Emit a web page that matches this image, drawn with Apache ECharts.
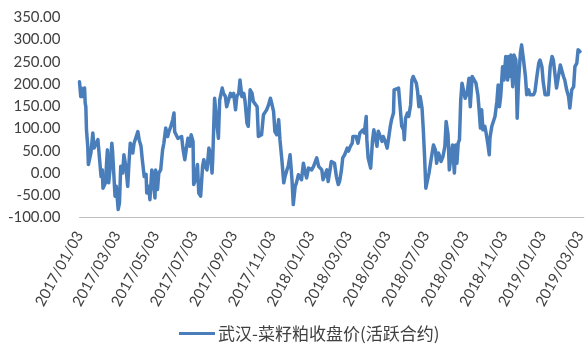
<!DOCTYPE html>
<html>
<head>
<meta charset="utf-8">
<script src="https://cdn.jsdelivr.net/npm/echarts@6/dist/echarts.min.js"></script>
<style>
  html, body { margin: 0; padding: 0; background: #fff; }
  #chart { width: 588px; height: 344px; }
</style>
</head>
<body>
<div id="chart"></div>
<script>
// 武汉菜籽粕活跃合约收盘价（元/吨）
const seriesName = '武汉-菜籽粕收盘价(活跃合约)';

const dates = [
  '2017-01-03','2017-01-05','2017-01-06','2017-01-08','2017-01-11','2017-01-12','2017-01-13','2017-01-14','2017-01-16','2017-01-17',
  '2017-01-21','2017-01-24','2017-01-26','2017-01-29','2017-02-01','2017-02-03','2017-02-06','2017-02-08','2017-02-09','2017-02-13',
  '2017-02-15','2017-02-16','2017-02-18','2017-02-20','2017-02-23','2017-02-24','2017-02-26','2017-02-28','2017-03-02','2017-03-05',
  '2017-03-07','2017-03-09','2017-03-12','2017-03-14','2017-03-17','2017-03-20','2017-03-22','2017-03-24','2017-03-28','2017-03-30',
  '2017-04-02','2017-04-05','2017-04-07','2017-04-10','2017-04-12','2017-04-15','2017-04-18','2017-04-19','2017-04-22','2017-04-24',
  '2017-04-27','2017-04-29','2017-05-02','2017-05-03','2017-05-06','2017-05-08','2017-05-11','2017-05-14','2017-05-16','2017-05-19',
  '2017-05-22','2017-05-24','2017-05-27','2017-05-30','2017-06-01','2017-06-02','2017-06-05','2017-06-07','2017-06-10','2017-06-13',
  '2017-06-15','2017-06-18','2017-06-21','2017-06-23','2017-06-26','2017-06-28','2017-07-01','2017-07-02','2017-07-05','2017-07-08',
  '2017-07-10','2017-07-13','2017-07-16','2017-07-18','2017-07-20','2017-07-23','2017-07-26','2017-07-28','2017-07-31','2017-08-01',
  '2017-08-04','2017-08-06','2017-08-08','2017-08-10','2017-08-12','2017-08-16','2017-08-18','2017-08-21','2017-08-23','2017-08-26',
  '2017-08-29','2017-08-31','2017-09-03','2017-09-06','2017-09-08','2017-09-11','2017-09-13','2017-09-16','2017-09-19','2017-09-21',
  '2017-09-24','2017-09-26','2017-09-29','2017-10-02','2017-10-04','2017-10-07','2017-10-10','2017-10-12','2017-10-15','2017-10-17',
  '2017-10-20','2017-10-23','2017-10-25','2017-10-28','2017-10-31','2017-11-02','2017-11-05','2017-11-07','2017-11-10','2017-11-13',
  '2017-11-15','2017-11-18','2017-11-21','2017-11-23','2017-11-26','2017-11-28','2017-12-01','2017-12-04','2017-12-06','2017-12-09',
  '2017-12-11','2017-12-14','2017-12-17','2017-12-19','2017-12-22','2017-12-25','2017-12-27','2017-12-30','2018-01-02','2018-01-04',
  '2018-01-07','2018-01-09','2018-01-12','2018-01-15','2018-01-17','2018-01-20','2018-01-22','2018-01-25','2018-01-28','2018-01-30',
  '2018-02-02','2018-02-04','2018-02-07','2018-02-09','2018-02-12','2018-02-15','2018-02-17','2018-02-20','2018-02-22','2018-02-25',
  '2018-02-28','2018-03-01','2018-03-03','2018-03-06','2018-03-09','2018-03-10','2018-03-13','2018-03-15','2018-03-18','2018-03-21',
  '2018-03-23','2018-03-26','2018-03-28','2018-03-31','2018-04-01','2018-04-03','2018-04-05','2018-04-07','2018-04-10','2018-04-12',
  '2018-04-15','2018-04-17','2018-04-19','2018-04-22','2018-04-25','2018-04-27','2018-04-30','2018-05-03','2018-05-05','2018-05-08',
  '2018-05-10','2018-05-13','2018-05-14','2018-05-17','2018-05-21','2018-05-24','2018-05-26','2018-05-29','2018-05-30','2018-06-01',
  '2018-06-04','2018-06-06','2018-06-09','2018-06-11','2018-06-13','2018-06-16','2018-06-18','2018-06-20','2018-06-22','2018-06-24',
  '2018-06-27','2018-06-29','2018-07-01','2018-07-03','2018-07-06','2018-07-08','2018-07-10','2018-07-13','2018-07-15','2018-07-18',
  '2018-07-20','2018-07-23','2018-07-25','2018-07-27','2018-07-30','2018-08-02','2018-08-04','2018-08-07','2018-08-09','2018-08-12',
  '2018-08-14','2018-08-17','2018-08-19','2018-08-21','2018-08-23','2018-08-25','2018-08-27','2018-08-29','2018-09-01','2018-09-03',
  '2018-09-06','2018-09-09','2018-09-11','2018-09-14','2018-09-17','2018-09-20','2018-09-23','2018-09-25','2018-09-27','2018-09-29',
  '2018-10-01','2018-10-04','2018-10-06','2018-10-09','2018-10-11','2018-10-12','2018-10-15','2018-10-18','2018-10-20','2018-10-23',
  '2018-10-25','2018-10-27','2018-10-29','2018-11-01','2018-11-03','2018-11-06','2018-11-09','2018-11-10','2018-11-12','2018-11-14',
  '2018-11-17','2018-11-19','2018-11-22','2018-11-24','2018-11-26','2018-11-29','2018-12-01','2018-12-04','2018-12-07','2018-12-09',
  '2018-12-12','2018-12-14','2018-12-17','2018-12-20','2018-12-22','2018-12-25','2018-12-28','2018-12-30','2019-01-02','2019-01-04',
  '2019-01-07','2019-01-10','2019-01-12','2019-01-15','2019-01-18','2019-01-20','2019-01-23','2019-01-25','2019-01-28','2019-01-31',
  '2019-02-02','2019-02-05','2019-02-07','2019-02-10','2019-02-13','2019-02-15','2019-02-18','2019-02-21','2019-02-23','2019-02-26',
  '2019-02-28','2019-03-03'
];

const prices = [
  205, 172, 191, 172, 191, 157, 149, 97, 60, 19,
  45, 90, 56, 56, 75, 72, -8, 7, -34, -22,
  30, 52, -22, 7, 67, 52, 0, -52, -30, -82,
  -67, 15, 0, 41, 15, -30, 22, 67, 45, 67,
  63, 93, 75, 60, 30, -8, -3, -45, -30, -60,
  7, -15, -56, 7, -37, 0, 7, 52, 67, 101,
  82, 93, 105, 120, 135, 93, 97, 78, 75, 82,
  56, 30, 60, 78, 60, 86, 71, -26, -15, 19,
  -45, -52, 15, 30, 15, 7, 56, 45, 0, 30,
  168, 135, 105, 78, 164, 191, 179, 172, 149, 146,
  179, 172, 179, 142, 172, 179, 209, 172, 179, 161,
  112, 105, 187, 179, 161, 157, 149, 82, 82, 86,
  131, 127, 142, 153, 168, 157, 138, 93, 86, 120,
  75, 30, -22, -8, 7, 15, 41, -15, -71, -30,
  -22, -4, 0, -15, 22, 0, -11, 11, 11, 7,
  15, 11, 34, 15, 11, 7, -15, -4, 7, -19,
  7, 26, 30, 22, -8, -26, -19, 7, 34, 41,
  45, 56, 49, 60, 67, 82, 86, 82, 67, 90,
  86, 97, 90, 127, 75, 34, 30, 11, 75, 97,
  97, 60, 94, 97, 71, 82, 71, 56, 75, 105,
  120, 135, 187, 191, 191, 191, 105, 97, 75, 123,
  135, 127, 153, 209, 217, 213, 202, 183, 149, 172,
  146, 97, 37, -34, -37, 0, 19, 22, 63, 52,
  22, 45, 37, 26, 37, 60, 116, 86, 7, 4,
  63, 0, 63, 22, 67, 75, 164, 202, 198, 168,
  179, 213, 149, 217, 217, 202, 176, 142, 101, 142,
  97, 105, 90, 63, 41, 78, 105, 105, 127, 161,
  198, 149, 172, 239, 209, 262, 209, 262, 217, 265,
  194, 265, 254, 123, 202, 269, 288, 254, 217, 176,
  187, 176, 179, 176, 183, 217, 247, 254, 239, 205,
  176, 176, 176, 239, 262, 254, 217, 191, 217, 243,
  243, 217, 209, 187, 172, 146, 187, 194, 239, 247,
  277, 273
];

// 横轴每两个月一个刻度
const tickDates = [
  '2017/01/03','2017/03/03','2017/05/03','2017/07/03','2017/09/03','2017/11/03',
  '2018/01/03','2018/03/03','2018/05/03','2018/07/03','2018/09/03','2018/11/03',
  '2019/01/03','2019/03/03'
];

const xRange = ['2017-01-03', '2019-03-09'];
const yTicks = { min: -100, max: 350, step: 50 };

const textColor = '#404040';
const labelFont = 'Lato, "Liberation Sans", sans-serif';

// 日期字符串 <-> UTC 毫秒
function toTime(s) {
  const p = s.split(/[-\/]/).map(Number);
  return Date.UTC(p[0], p[1] - 1, p[2]);
}
function fmtDate(t) {
  return new Date(t).toISOString().slice(0, 10).replace(/-/g, '/');
}

const chart = echarts.init(document.getElementById('chart'), null, { renderer: 'canvas' });

const tickValues = tickDates.map(toTime);

chart.setOption({
  animation: false,
  backgroundColor: '#ffffff',
  grid: { left: 79.5, right: 3, top: 17.3, bottom: 126.5 },
  xAxis: {
    type: 'value',
    min: toTime(xRange[0]),
    max: toTime(xRange[1]),
    axisLine: { show: true, onZero: false, lineStyle: { color: '#BFBFBF', width: 1 } },
    axisTick: { show: false, customValues: tickValues },
    splitLine: { show: false },
    axisLabel: {
      customValues: tickValues,
      rotate: 61,
      margin: 15,
      color: textColor,
      fontFamily: labelFont,
      fontSize: 15,
      hideOverlap: false,
      showMinLabel: true,
      showMaxLabel: true,
      formatter: v => fmtDate(v)
    }
  },
  yAxis: {
    type: 'value',
    min: yTicks.min,
    max: yTicks.max,
    interval: yTicks.step,
    axisLine: { show: false },
    axisTick: { show: false },
    splitLine: { show: false },
    axisLabel: {
      margin: 19,
      color: textColor,
      fontFamily: labelFont,
      fontSize: 15,
      formatter: v => v.toFixed(2)
    }
  },
  legend: {
    show: true,
    left: 179,
    top: 325,
    padding: 0,
    icon: 'rect',
    itemWidth: 36,
    itemHeight: 3,
    itemGap: 10,
    textStyle: {
      color: textColor,
      fontSize: 17,
      fontFamily: '"Noto Sans CJK SC", sans-serif',
      padding: [0, 0, 0, -2]
    },
    data: [seriesName]
  },
  series: [{
    name: seriesName,
    type: 'line',
    data: dates.map((d, i) => [toTime(d), prices[i]]),
    symbol: 'none',
    showSymbol: false,
    lineStyle: { color: '#4A7EBB', width: 3.5, join: 'round', cap: 'round' },
    itemStyle: { color: '#4A7EBB' }
  }]
});
</script>
</body>
</html>
